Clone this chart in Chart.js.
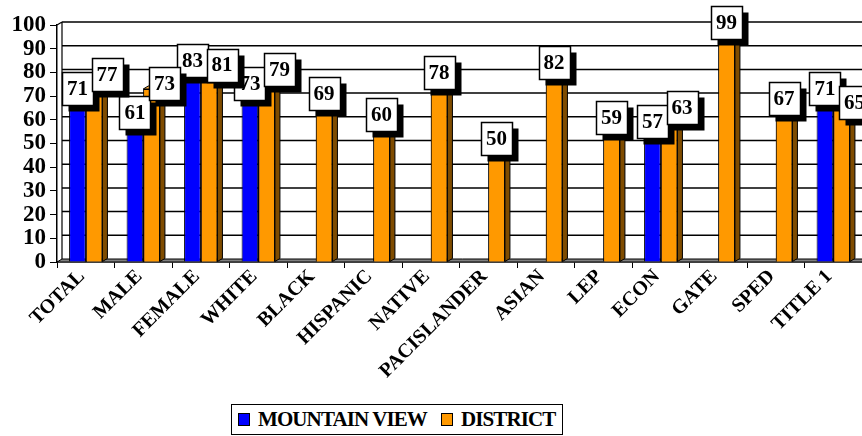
<!DOCTYPE html>
<html>
<head>
<meta charset="utf-8">
<script src="https://cdn.jsdelivr.net/npm/chart.js@4/dist/chart.umd.min.js"></script>
<style>
  html, body { margin: 0; padding: 0; background: #fff; overflow: hidden; }
  #wrap { position: relative; width: 862px; height: 436px; }
  #legend {
    position: absolute; left: 231px; top: 404px; width: 330px; height: 29px;
    border: 1.5px solid #000; background: #fff; box-sizing: content-box;
    font: bold 21px 'Liberation Serif', 'Times New Roman', serif; color: #000;
    display: flex; align-items: center; white-space: nowrap; letter-spacing: -0.9px;
  }
  #legend .sw { display: inline-block; width: 10px; height: 11px; border: 1px solid #000; margin: 0 8px 0 0; }
  #legend .item { display: flex; align-items: center; }
</style>
</head>
<body>
<div id="wrap">
  <canvas id="c" width="862" height="436"></canvas>
  <div id="legend"></div>
</div>
<script>
const categories = ['TOTAL','MALE','FEMALE','WHITE','BLACK','HISPANIC','NATIVE','PACISLANDER','ASIAN','LEP','ECON','GATE','SPED','TITLE 1'];
const mountainView = [71, 61, 83, 73, null, null, null, null, null, null, 57, null, null, 71];
const district = [77, 73, 81, 79, 69, 60, 78, 50, 82, 59, 63, 99, 67, 65];
const seriesNames = ['MOUNTAIN VIEW', 'DISTRICT'];
const seriesColors = ['#0000FF', '#FF9900'];
const sideColors = ['#000080', '#7F4C00'];
const topColors = ['#4040FF', '#FFB347'];
const yMin = 0, yMax = 100, yStep = 10;

const FONT = "'Liberation Serif', 'Times New Roman', serif";
const DX = 5, DY = 3;

function poly(ctx, pts, fill) {
  ctx.beginPath();
  ctx.moveTo(pts[0][0], pts[0][1]);
  for (let i = 1; i < pts.length; i++) ctx.lineTo(pts[i][0], pts[i][1]);
  ctx.closePath();
  ctx.fillStyle = fill; ctx.fill();
  ctx.lineWidth = 1; ctx.strokeStyle = '#000'; ctx.stroke();
}

const threeD = {
  id: 'threeD',
  beforeDatasetsDraw(chart) {
    const ctx = chart.ctx, ca = chart.chartArea, ys = chart.scales.y;
    ctx.save();
    const y0 = ys.getPixelForValue(yMin);
    poly(ctx, [[ca.left, y0], [ca.left + DX, y0 - DY], [ca.right + DX, y0 - DY], [ca.right, y0]], '#808080');
    ctx.strokeStyle = '#000'; ctx.lineWidth = 1.5;
    for (let v = yMin + yStep; v <= yMax; v += yStep) {
      const y = ys.getPixelForValue(v) - DY;
      ctx.beginPath(); ctx.moveTo(ca.left + DX, y); ctx.lineTo(ca.right + DX, y); ctx.stroke();
    }
    const yt = ys.getPixelForValue(yMax);
    ctx.lineWidth = 1.2;
    ctx.beginPath();
    ctx.moveTo(ca.left + DX, yt - DY); ctx.lineTo(ca.left + DX, y0 - DY);
    ctx.moveTo(ca.left, yt); ctx.lineTo(ca.left + DX, yt - DY);
    ctx.stroke();
    ctx.restore();
  },
  afterDatasetsDraw(chart) {
    const ctx = chart.ctx;
    ctx.save();
    chart.data.datasets.forEach((ds, di) => {
      const meta = chart.getDatasetMeta(di);
      meta.data.forEach((el, i) => {
        if (ds.data[i] == null) return;
        if (di > 0) el.draw(ctx);
        const p = el.getProps(['x', 'y', 'base', 'width'], true);
        const l = p.x - p.width / 2, r = p.x + p.width / 2;
        poly(ctx, [[r, p.y], [r + DX, p.y - DY], [r + DX, p.base - DY], [r, p.base]], sideColors[di]);
        poly(ctx, [[l, p.y], [l + DX, p.y - DY], [r + DX, p.y - DY], [r, p.y]], topColors[di]);
      });
    });
    const bw = 31, bh = 33, sh = 6;
    ctx.font = 'bold 21px ' + FONT;
    ctx.textAlign = 'center'; ctx.textBaseline = 'middle';
    chart.data.datasets.forEach((ds, di) => {
      const meta = chart.getDatasetMeta(di);
      meta.data.forEach((el, i) => {
        const v = ds.data[i];
        if (v == null) return;
        const p = el.getProps(['x', 'y'], true);
        const shift = (di === 1 && mountainView[i] != null) ? 13 : 0;
        const cx = p.x + shift, cy = p.y - 5;
        const bx = Math.round(cx - bw / 2) + 0.5, by = Math.round(cy - bh / 2) + 0.5;
        ctx.fillStyle = '#000';
        ctx.fillRect(bx + sh, by + sh, bw, bh);
        ctx.fillStyle = '#fff';
        ctx.fillRect(bx, by, bw, bh);
        ctx.lineWidth = 1.5; ctx.strokeStyle = '#000';
        ctx.strokeRect(bx, by, bw, bh);
        ctx.fillStyle = '#000';
        ctx.fillText(String(v), cx, cy + 1);
      });
    });
    ctx.restore();
  }
};

const chart = new Chart(document.getElementById('c'), {
  type: 'bar',
  data: {
    labels: categories,
    datasets: [
      { label: seriesNames[0], data: mountainView, backgroundColor: seriesColors[0], borderColor: '#000', borderWidth: 1 },
      { label: seriesNames[1], data: district, backgroundColor: seriesColors[1], borderColor: '#000', borderWidth: 1 }
    ]
  },
  options: {
    responsive: false,
    animation: false,
    layout: { padding: { top: 25, right: 0, left: 0, bottom: 0 } },
    categoryPercentage: 0.58,
    barPercentage: 1.0,
    plugins: { legend: { display: false }, tooltip: { enabled: false } },
    scales: {
      x: {
        grid: { display: true, drawOnChartArea: false, drawTicks: true, tickLength: 6, color: '#000', offset: true },
        border: { display: true, color: '#000', width: 1.5 },
        ticks: {
          color: '#000', font: { family: FONT, weight: 'bold', size: 20 },
          maxRotation: 45, minRotation: 45, autoSkip: false, padding: -3, labelOffset: -4
        },
        afterFit(scale) { scale.height = 174; }
      },
      y: {
        min: yMin, max: yMax,
        grid: { display: true, drawOnChartArea: false, drawTicks: true, tickLength: 7, color: '#000' },
        border: { display: true, color: '#000', width: 1.5 },
        ticks: { stepSize: yStep, autoSkip: false, color: '#000', font: { family: FONT, weight: 'bold', size: 23, lineHeight: 0.9 }, padding: 4 },
        afterFit(scale) { scale.width = 57; }
      }
    }
  },
  plugins: [threeD]
});

const lg = document.getElementById('legend');
seriesNames.forEach((name, i) => {
  const it = document.createElement('span');
  it.className = 'item';
  it.style.marginLeft = i === 0 ? '6px' : '14px';
  const sw = document.createElement('span');
  sw.className = 'sw'; sw.style.background = seriesColors[i];
  const tx = document.createElement('span');
  tx.textContent = name;
  it.appendChild(sw); it.appendChild(tx);
  lg.appendChild(it);
});
</script>
</body>
</html>
